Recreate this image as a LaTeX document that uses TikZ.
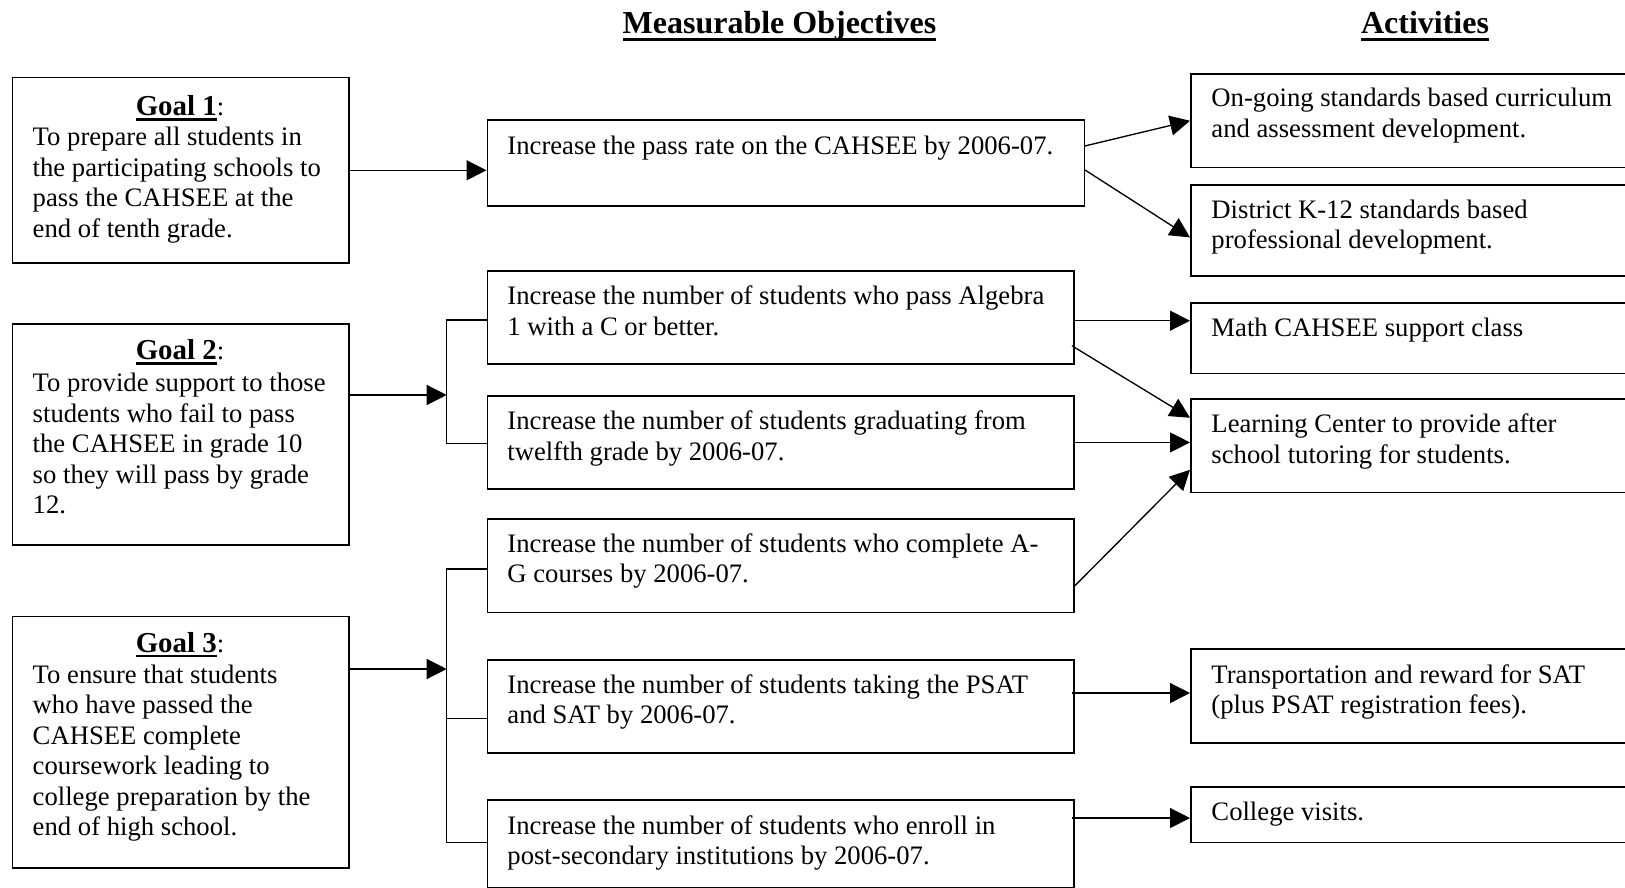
\documentclass[tikz,border=0pt]{standalone}
\usepackage{fontspec}
\setmainfont{Liberation Serif}
\usetikzlibrary{arrows.meta}
\newcommand\bodyfont{\fontsize{12}{13.7}\selectfont}
\newcommand\ulgoal[1]{\setbox0\hbox{#1}\rlap{\rule[-2.1pt]{\wd0}{1pt}}\box0}
\newcommand\ulhead[1]{\setbox0\hbox{#1}\rlap{\rule[-3.3pt]{\wd0}{1.3pt}}\box0}
\newcommand\lines[1]{\parbox[t]{420pt}{\bodyfont\raggedright #1}}
\tikzset{
  box/.style={draw, line width=0.7pt, rectangle, inner sep=0pt, anchor=north west},
  txt/.style={anchor=base west, inner sep=0pt},
  head/.style={anchor=base, inner sep=0pt, font=\bfseries\fontsize{14.4}{16}\selectfont},
  goallbl/.style={anchor=base, inner sep=0pt},
  arr/.style={line width=0.6pt, -{Triangle[length=9pt,width=9pt]}},
  ln/.style={line width=0.6pt}
}
\newcommand\bx[5]{%
  \pgfmathsetmacro\bxw{(#4-#2)*0.45}%
  \pgfmathsetmacro\bxh{(#5-#3)*0.45}%
  \node[box, minimum width=\bxw pt, minimum height=\bxh pt] (#1) at (#2,#3) {};}
\begin{document}
\begin{tikzpicture}[x=0.45pt,y=-0.45pt]
\useasboundingbox (0,0) rectangle (1625,888);
% headings
\node[head] (h1) at (779.5,33.3) {\ulhead{Measurable Objectives}};
\node[head] (h2) at (1425,33.3) {\ulhead{Activities}};
% goal boxes
\bx{g1}{11.7}{76.7}{348.3}{262.3}
\bx{g2}{11.7}{323.3}{348.3}{544.3}
\bx{g3}{11.7}{615.7}{348.3}{867.3}
\node[goallbl] (g1l) at (180,116) {{\bfseries\fontsize{13}{15}\selectfont\ulgoal{Goal 1}}{\bodyfont:}};
\node[goallbl] (g2l) at (180,360) {{\bfseries\fontsize{13}{15}\selectfont\ulgoal{Goal 2}}{\bodyfont:}};
\node[goallbl] (g3l) at (180,652.3) {{\bfseries\fontsize{13}{15}\selectfont\ulgoal{Goal 3}}{\bodyfont:}};
\node[txt] (g1t) at (32.3,146) {\lines{To prepare all students in\\the participating schools to\\pass the CAHSEE at the\\end of tenth grade.}};
\node[txt] (g2t) at (32.3,391.7) {\lines{To provide support to those\\students who fail to pass\\the CAHSEE in grade 10\\so they will pass by grade\\12.}};
\node[txt] (g3t) at (32.3,683.3) {\lines{To ensure that students\\who have passed the\\CAHSEE complete\\coursework leading to\\college preparation by the\\end of high school.}};
% objective boxes
\bx{o1}{486.5}{119.3}{1083.5}{205}
\bx{o2}{486.5}{270}{1073.3}{363.3}
\bx{o3}{486.5}{395}{1073.3}{488.3}
\bx{o4}{486.5}{518.3}{1073.3}{611.7}
\bx{o5}{486.5}{659}{1073.3}{752.3}
\bx{o6}{486.5}{799.3}{1073.3}{887}
\node[txt] (o1t) at (507,155) {\lines{Increase the pass rate on the CAHSEE by 2006-07.}};
\node[txt] (o2t) at (507,305) {\lines{Increase the number of students who pass Algebra\\1 with a C or better.}};
\node[txt] (o3t) at (507,430) {\lines{Increase the number of students graduating from\\twelfth grade by 2006-07.}};
\node[txt] (o4t) at (507,552.3) {\lines{Increase the number of students who complete A-\\G courses by 2006-07.}};
\node[txt] (o5t) at (507,693.3) {\lines{Increase the number of students taking the PSAT\\and SAT by 2006-07.}};
\node[txt] (o6t) at (507,834) {\lines{Increase the number of students who enroll in\\post-secondary institutions by 2006-07.}};
% activity boxes
\bx{a1}{1190}{73.3}{1640}{166.7}
\bx{a2}{1190}{184.3}{1640}{275}
\bx{a3}{1190}{302.3}{1640}{372.7}
\bx{a4}{1190}{398.3}{1640}{491.7}
\bx{a5}{1190}{648.3}{1640}{742.3}
\bx{a6}{1190}{786}{1640}{841.7}
\node[txt] (a1t) at (1211,106.7) {\lines{On-going standards based curriculum\\and assessment development.}};
\node[txt] (a2t) at (1211,218.3) {\lines{District K-12 standards based\\professional development.}};
\node[txt] (a3t) at (1211,336.7) {\lines{Math CAHSEE support class}};
\node[txt] (a4t) at (1211,432.7) {\lines{Learning Center to provide after\\school tutoring for students.}};
\node[txt] (a5t) at (1211,683.3) {\lines{Transportation and reward for SAT\\(plus PSAT registration fees).}};
\node[txt] (a6t) at (1211,820) {\lines{College visits.}};
% goal 1 connector
\draw[arr] (g1.east) -- (g1.east -| o1.west);
% goal 2 bracket
\coordinate (b2) at (446.7,395);
\coordinate (b2t) at (446.7,320);
\coordinate (b2b) at (446.7,443.3);
\draw[arr] (g2.east |- b2) -- (b2);
\draw[ln] (o2.west |- b2t) -- (b2t) -- (b2b) -- (o3.west |- b2b);
% goal 3 bracket
\coordinate (b3) at (446.7,669);
\coordinate (b3t) at (446.7,569);
\coordinate (b3m) at (446.7,718.3);
\coordinate (b3b) at (446.7,842.7);
\draw[arr] (g3.east |- b3) -- (b3);
\draw[ln] (o4.west |- b3t) -- (b3t) -- (b3b) -- (o6.west |- b3b);
\draw[ln] (b3m) -- (o5.west |- b3m);
% objectives to activities
\draw[arr] ([shift={(0,-17)}]o1.east) -- (a1.west);
\draw[arr] ([shift={(0,7.1)}]o1.east) -- ([shift={(0,7)}]a2.west);
\coordinate (p2) at ([shift={(0,3.3)}]o2.east);
\draw[arr] (p2) -- (p2 -| a3.west);
\draw[arr] ([shift={(-3,28.3)}]o2.east) -- ([shift={(0,-28)}]a4.west);
\draw[arr] (o3.east) -- (o3.east -| a4.west);
\draw[arr] ([shift={(0,20)}]o4.east) -- ([shift={(0,24)}]a4.west);
\coordinate (p5) at ([shift={(-3,-13.4)}]o5.east);
\draw[arr] (p5) -- (p5 -| a5.west);
\coordinate (p6) at ([shift={(-3,-25.9)}]o6.east);
\draw[arr] (p6) -- (p6 -| a6.west);
\end{tikzpicture}
\end{document}
